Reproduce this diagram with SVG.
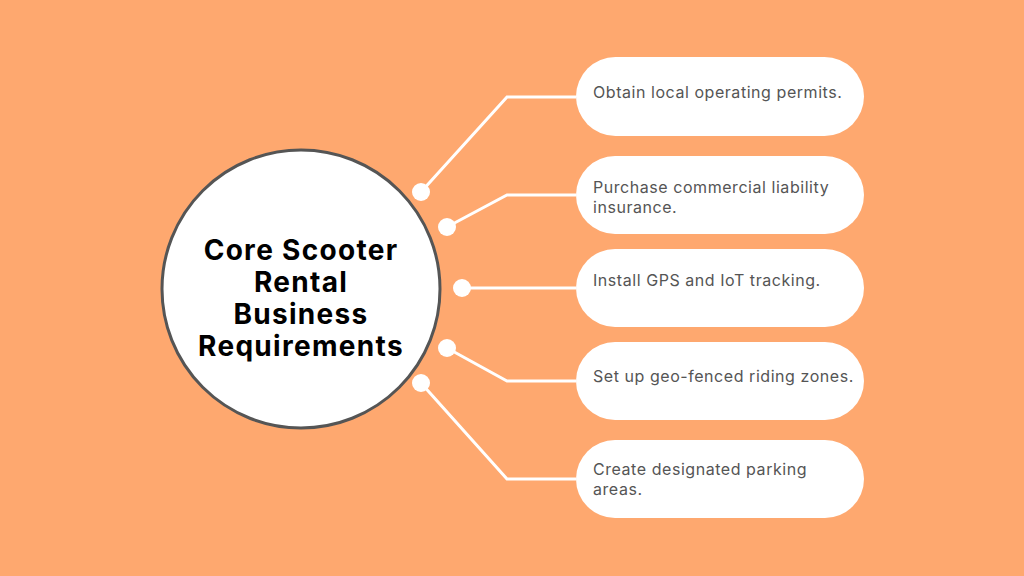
<svg xmlns="http://www.w3.org/2000/svg" width="1024" height="576" viewBox="0 0 1024 576">
<style>
.pill{fill:#ffffff}
.lbl{font-family:Inter,"Open Sans","Liberation Sans",sans-serif;font-size:16px;letter-spacing:0.55px;fill:#555555}
.ttl{font-family:Inter,"Liberation Sans",sans-serif;font-weight:700;font-size:28px;letter-spacing:1.3px;fill:#000000;text-anchor:middle}
.con{fill:none;stroke:#ffffff;stroke-width:3}
.dot{fill:#ffffff}
</style>
<rect width="1024" height="576" fill="#FEA86F"/>
<g id="connectors">
<polyline class="con" points="421,192 507,97 576,97"/>
<circle class="dot" cx="421" cy="192" r="9"/>
<polyline class="con" points="447,227 507,195 576,195"/>
<circle class="dot" cx="447" cy="227" r="9"/>
<polyline class="con" points="462,288 576,288"/>
<circle class="dot" cx="462" cy="288" r="9"/>
<polyline class="con" points="447,348 507,381 576,381"/>
<circle class="dot" cx="447" cy="348" r="9"/>
<polyline class="con" points="421,383 507,479 576,479"/>
<circle class="dot" cx="421" cy="383" r="9"/>
</g>
<g id="center">
<circle cx="301" cy="289" r="139" fill="#ffffff" stroke="#555555" stroke-width="3"/>
<text class="ttl" x="301" y="260">Core Scooter</text>
<text class="ttl" x="301" y="292">Rental</text>
<text class="ttl" x="301" y="324">Business</text>
<text class="ttl" x="301" y="356">Requirements</text>
</g>
<g id="n1">
<rect class="pill" x="576" y="57" width="288" height="79" rx="39.5"/>
<text class="lbl" x="593" y="98">Obtain local operating permits.</text>
</g>
<g id="n2">
<rect class="pill" x="576" y="156" width="288" height="78" rx="39"/>
<text class="lbl" x="593" y="193">Purchase commercial liability</text>
<text class="lbl" x="593" y="213">insurance.</text>
</g>
<g id="n3">
<rect class="pill" x="576" y="249" width="288" height="78" rx="39"/>
<text class="lbl" x="593" y="286">Install GPS and IoT tracking.</text>
</g>
<g id="n4">
<rect class="pill" x="576" y="342" width="288" height="78" rx="39"/>
<text class="lbl" x="593" y="382">Set up geo-fenced riding zones.</text>
</g>
<g id="n5">
<rect class="pill" x="576" y="440" width="288" height="78" rx="39"/>
<text class="lbl" x="593" y="475">Create designated parking</text>
<text class="lbl" x="593" y="495">areas.</text>
</g>
</svg>
